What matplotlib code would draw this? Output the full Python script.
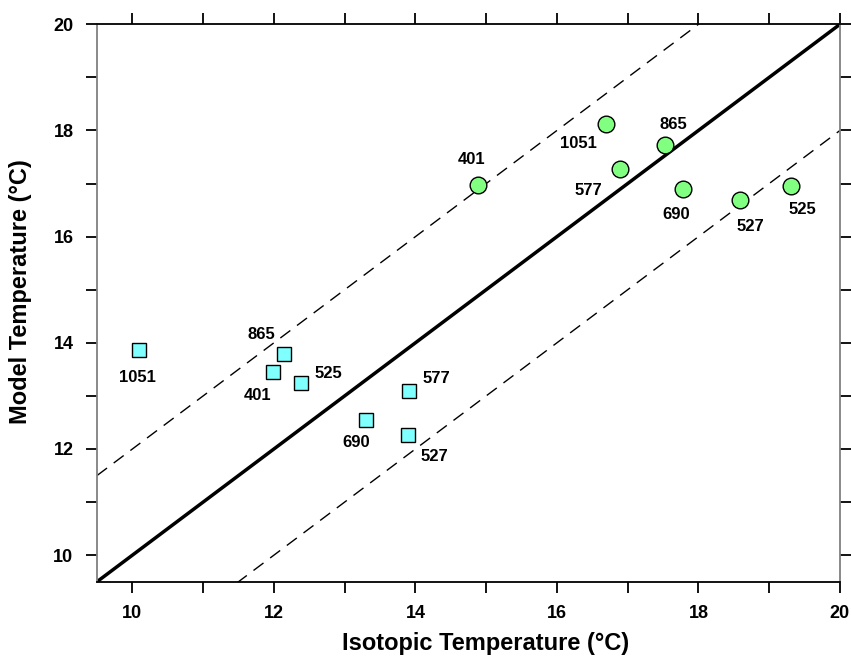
import matplotlib.pyplot as plt
import numpy as np

plt.rcParams['font.family'] = ['Liberation Sans', 'DejaVu Sans']
plt.rcParams['font.weight'] = 'bold'

# isotopic vs model temperature, labelled by site
circle_iso = [14.88, 16.69, 17.53, 16.89, 17.78, 18.59, 19.31]
circle_mod = [16.98, 18.13, 17.73, 17.28, 16.90, 16.69, 16.95]
circle_lab = ['401', '1051', '865', '577', '690', '527', '525']
circle_off = [(-6, 25), (-27, -20), (8, 20), (-31, -22), (-7, -26), (10, -26), (11, -23)]

square_iso = [10.09, 12.14, 11.99, 12.39, 13.30, 13.91, 13.90]
square_mod = [13.86, 13.79, 13.45, 13.24, 12.54, 13.10, 12.27]
square_lab = ['1051', '865', '401', '525', '690', '577', '527']
square_off = [(-1, -27), (-22, 19), (-16, -23), (27, 10), (-10, -22), (27, 12), (26, -22)]

fig = plt.figure(figsize=(8.51, 6.57), dpi=100)
ax = fig.add_axes([0.114, 0.1146, 0.873, 0.8484])

xs = np.array([9.5, 20])
ax.plot(xs, xs, color='black', lw=2.5, zorder=2)
ax.plot(xs, xs + 2, color='black', lw=1, ls=(0, (9, 6)), zorder=2)
ax.plot(xs, xs - 2, color='black', lw=1, ls=(0, (9, 6)), zorder=2)

ax.plot(circle_iso, circle_mod, 'o', ms=12, mfc='#80ff80', mec='black', mew=1, ls='none', zorder=3)
ax.plot(square_iso, square_mod, 's', ms=9.5, mfc='#80ffff', mec='black', mew=1, ls='none', zorder=3)

for x, y, t, o in zip(circle_iso, circle_mod, circle_lab, circle_off):
    ax.annotate(t, (x, y), xytext=o, textcoords='offset pixels', ha='center', va='center',
                fontsize=12, fontweight='bold')
for x, y, t, o in zip(square_iso, square_mod, square_lab, square_off):
    ax.annotate(t, (x, y), xytext=o, textcoords='offset pixels', ha='center', va='center',
                fontsize=12, fontweight='bold')

ax.set_xlim(9.5, 20)
ax.set_ylim(9.5, 20)
ax.set_xticks([10, 12, 14, 16, 18, 20])
ax.set_yticks([10, 12, 14, 16, 18, 20])
ax.set_xticks([11, 13, 15, 17, 19], minor=True)
ax.set_yticks([11, 13, 15, 17, 19], minor=True)
ax.tick_params(which='both', direction='out', length=8, width=1.3, top=True, right=True,
               labeltop=False, labelright=False, labelsize=13, pad=9)
for lab in ax.get_xticklabels() + ax.get_yticklabels():
    lab.set_fontweight('bold')

ax.spines['left'].set_color('#808080')
ax.spines['right'].set_color('#808080')
for s in ax.spines.values():
    s.set_linewidth(1.3)

fig.text(0.571, 0.021, 'Isotopic Temperature (°C)', fontsize=17, fontweight='bold',
         ha='center', va='center')
fig.text(0.024, 0.556, 'Model Temperature (°C)', fontsize=17, fontweight='bold',
         ha='center', va='center', rotation=90)

fig.savefig('out.png', dpi=100)
